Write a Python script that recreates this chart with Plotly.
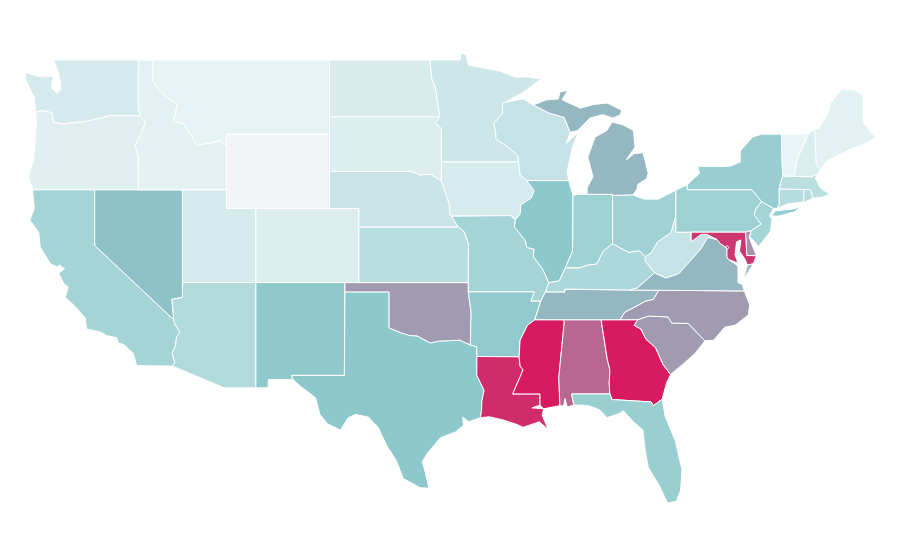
import plotly.graph_objects as go
from plotly.colors import sample_colorscale

WA = [[(-124.73,48.33),(-123.9,48.12),(-123.2,48.12),(-122.8,48.12),(-122.95,47.5),(-122.55,47.2),(-122.3,47.4),(-122.35,47.9),(-122.5,48.4),(-122.8,49),(-117.03,49),(-117.04,46.42),(-116.92,46),(-118.98,46),(-119.3,45.93),(-120.5,45.7),(-121.2,45.65),(-122.15,45.55),(-122.8,45.65),(-122.9,46.15),(-123.5,46.27),(-124,46.2),(-124.07,46.7),(-124.1,47),(-124.35,47.35),(-124.65,47.9)]]
OR = [[(-124,46.2),(-123.5,46.27),(-122.9,46.15),(-122.8,45.65),(-122.15,45.55),(-121.2,45.65),(-120.5,45.7),(-119.3,45.93),(-118.98,46),(-116.92,46),(-116.57,45.65),(-116.85,45),(-117.25,44.4),(-117.05,43.8),(-117.03,42),(-124.21,42),(-124.5,42.75),(-124.15,43.6),(-124.07,44.6),(-123.97,45.5)]]
CA = [[(-124.21,42),(-120,42),(-120,39),(-114.63,35),(-114.57,34.8),(-114.2,34.3),(-114.43,34.1),(-114.53,33.55),(-114.75,33.2),(-114.55,32.7),(-114.72,32.5),(-117.15,32.53),(-117.25,32.85),(-117.4,33.2),(-118,33.65),(-118.4,33.75),(-118.5,34.03),(-119.2,34.15),(-119.65,34.35),(-120.55,34.5),(-120.65,35.1),(-121.3,35.7),(-122,36.2),(-121.8,36.75),(-122.1,36.95),(-122.45,37.5),(-122.05,37.75),(-122.4,37.95),(-122.55,37.85),(-123,38),(-123.7,38.9),(-123.8,39.7),(-124.4,40.37),(-124.1,41),(-124.2,41.75)]]
NV = [[(-120,42),(-114.04,42),(-114.04,36.2),(-114.75,36.1),(-114.63,35),(-120,39)]]
ID = [[(-117.03,49),(-116.05,49),(-116.05,47.9),(-115.7,47.45),(-115.1,47),(-114.4,46.6),(-114.65,45.65),(-114,45.6),(-113.45,44.95),(-113.05,44.4),(-112,44.55),(-111.5,44.65),(-111.05,44.4),(-111.05,42),(-117.03,42),(-117.05,43.8),(-117.25,44.4),(-116.85,45),(-116.57,45.65),(-116.92,46),(-117.04,46.42)]]
MT = [[(-116.05,49),(-104.05,49),(-104.05,45),(-111.05,45),(-111.05,44.4),(-111.5,44.65),(-112,44.55),(-113.05,44.4),(-113.45,44.95),(-114,45.6),(-114.65,45.65),(-114.4,46.6),(-115.1,47),(-115.7,47.45),(-116.05,47.9)]]
WY = [[(-111.05,45),(-104.05,45),(-104.05,41),(-111.05,41)]]
UT = [[(-114.04,42),(-111.05,42),(-111.05,41),(-109.05,41),(-109.05,37),(-114.04,37)]]
CO = [[(-109.05,41),(-102.05,41),(-102.05,37),(-109.05,37)]]
AZ = [[(-114.04,37),(-109.05,37),(-109.05,31.33),(-111.2,31.33),(-114.72,32.5),(-114.55,32.7),(-114.75,33.2),(-114.53,33.55),(-114.43,34.1),(-114.2,34.3),(-114.57,34.8),(-114.63,35),(-114.75,36.1),(-114.04,36.2)]]
NM = [[(-109.05,37),(-103,37),(-103.04,32),(-106.62,32),(-106.53,31.78),(-108.21,31.78),(-108.21,31.33),(-109.05,31.33)]]
TX = [[(-106.62,32),(-103.04,32),(-103,36.5),(-100,36.5),(-100,34.56),(-99.2,34.3),(-98.6,34.15),(-98.1,34.13),(-97.6,33.9),(-97.2,33.75),(-96.6,33.85),(-95.9,33.87),(-95.2,33.9),(-94.48,33.64),(-94.04,33.55),(-94.04,32),(-93.55,31.2),(-93.7,30.6),(-93.72,30.1),(-93.8,29.72),(-94.6,29.5),(-95,29.75),(-94.95,29.3),(-95.5,28.95),(-96.5,28.65),(-97.4,27.8),(-97.75,27.35),(-97.55,26.8),(-97.3,25.92),(-97.9,25.95),(-99.05,26.45),(-99.5,27.4),(-100.15,28.2),(-100.75,29.2),(-101.4,29.75),(-102.3,29.9),(-102.8,29.7),(-103.3,29.05),(-104.2,29.4),(-104.7,29.9),(-105,30.8),(-106,31.4),(-106.53,31.78)]]
OK = [[(-103,37),(-94.62,37),(-94.62,36.5),(-94.43,35.4),(-94.48,33.64),(-95.2,33.9),(-95.9,33.87),(-96.6,33.85),(-97.2,33.75),(-97.6,33.9),(-98.1,34.13),(-98.6,34.15),(-99.2,34.3),(-100,34.56),(-100,36.5),(-103,36.5)]]
KS = [[(-102.05,40),(-95.31,40),(-94.9,39.75),(-94.61,39.11),(-94.62,37),(-102.05,37)]]
NE = [[(-104.05,43),(-98.5,43),(-97.9,42.8),(-97.2,42.85),(-96.45,42.49),(-96.1,41.7),(-95.9,41.2),(-95.86,40.7),(-95.31,40),(-102.05,40),(-102.05,41),(-104.05,41)]]
SD = [[(-104.05,45.94),(-96.56,45.94),(-96.85,45.6),(-96.45,45.3),(-96.45,42.49),(-97.2,42.85),(-97.9,42.8),(-98.5,43),(-104.05,43)]]
ND = [[(-104.05,49),(-97.23,49),(-97.1,48),(-96.85,47.5),(-96.56,45.94),(-104.05,45.94)]]
MN = [[(-97.23,49),(-95.15,49),(-95.15,49.38),(-94.8,49.3),(-94.6,48.72),(-93.5,48.55),(-92.5,48.4),(-91.4,48.07),(-90.75,48.1),(-89.68,47.98),(-90.8,47.3),(-92.1,46.72),(-92.29,46.66),(-92.29,46.1),(-92.87,45.6),(-92.75,45),(-92.75,44.75),(-91.9,44.3),(-91.25,43.85),(-91.22,43.5),(-96.45,43.5),(-96.45,45.3),(-96.85,45.6),(-96.56,45.94),(-96.85,47.5),(-97.1,48)]]
IA = [[(-96.45,43.5),(-91.22,43.5),(-91.1,42.8),(-90.65,42.5),(-90.15,41.95),(-90.35,41.55),(-91.05,41.2),(-91.1,40.7),(-91.42,40.38),(-91.73,40.61),(-95.77,40.58),(-95.86,40.7),(-95.9,41.2),(-96.1,41.7),(-96.45,42.49)]]
MO = [[(-95.77,40.58),(-91.73,40.61),(-91.42,40.38),(-91.5,40),(-90.73,39.25),(-90.65,38.9),(-90.15,38.8),(-90.2,38.4),(-89.55,37.7),(-89.15,37),(-89.38,36.5),(-89.7,36),(-90.37,36),(-90.15,36.5),(-94.62,36.5),(-94.62,37),(-94.61,39.11),(-94.9,39.75),(-95.31,40)]]
AR = [[(-94.62,36.5),(-90.15,36.5),(-90.37,36),(-89.7,36),(-90.1,35),(-90.6,34.7),(-91.1,33.9),(-91.17,33),(-94.04,33.02),(-94.04,33.55),(-94.48,33.64),(-94.43,35.4)]]
LA = [[(-94.04,33.02),(-91.17,33),(-91.1,32.5),(-90.9,32.3),(-91.6,31),(-89.75,31),(-89.75,30.4),(-90.3,30.25),(-89.5,30.2),(-89.6,29.85),(-89.2,29.1),(-89.8,29.5),(-90.9,29.2),(-91.3,29.35),(-92.25,29.6),(-93.2,29.77),(-93.8,29.72),(-93.72,30.1),(-93.7,30.6),(-93.55,31.2),(-94.04,32)]]
MS = [[(-90.1,35),(-88.2,35),(-88.1,34.9),(-88.47,31.9),(-88.4,30.37),(-89.5,30.2),(-89.75,30.4),(-89.75,31),(-91.6,31),(-90.9,32.3),(-91.1,32.5),(-91.17,33),(-91.1,33.9),(-90.6,34.7)]]
AL = [[(-88.2,35),(-85.6,35),(-85.18,32.87),(-85,32.3),(-85.05,31.55),(-85,31),(-87.6,31),(-87.45,30.4),(-87.9,30.3),(-88.05,30.75),(-88.15,30.35),(-88.4,30.37),(-88.47,31.9),(-88.1,34.9)]]
GA = [[(-85.6,35),(-83.1,35),(-83.35,34.7),(-82.9,34.5),(-82.55,33.95),(-81.9,33.5),(-81.4,32.6),(-80.88,32.05),(-81.15,31.6),(-81.45,30.72),(-82.05,30.36),(-82.2,30.57),(-84.86,30.7),(-85,31),(-85.05,31.55),(-85,32.3),(-85.18,32.87)]]
FL = [[(-87.6,31),(-85,31),(-84.86,30.7),(-82.2,30.57),(-82.05,30.36),(-81.45,30.72),(-81.25,29.8),(-80.55,28.45),(-80.1,26.9),(-80.2,25.8),(-80.5,25.2),(-81.1,25.13),(-81.6,26),(-82.4,27.05),(-82.6,27.95),(-82.75,29.05),(-83.4,29.5),(-84.1,30.1),(-84.35,29.95),(-85.2,29.72),(-85.7,30.15),(-86.5,30.38),(-87.45,30.4)]]
SC = [[(-83.35,34.7),(-83.1,35),(-82.4,35.2),(-81.05,35.15),(-80.8,34.82),(-79.67,34.8),(-78.55,33.86),(-79.2,33.2),(-79.9,32.7),(-80.88,32.05),(-81.4,32.6),(-81.9,33.5),(-82.55,33.95),(-82.9,34.5)]]
NC = [[(-84.32,35),(-83.1,35),(-82.4,35.2),(-81.05,35.15),(-80.8,34.82),(-79.67,34.8),(-78.55,33.86),(-77.95,33.9),(-77.2,34.6),(-76.5,34.7),(-75.6,35.25),(-75.5,35.8),(-75.87,36.55),(-81.68,36.59),(-82.05,36.1),(-82.6,36),(-83.1,35.77),(-84,35.4)]]
TN = [[(-90.1,35),(-84.32,35),(-84,35.4),(-83.1,35.77),(-82.6,36),(-82.05,36.1),(-81.68,36.59),(-83.68,36.6),(-88.07,36.65),(-88.07,36.5),(-89.38,36.5),(-89.7,36)]]
KY = [[(-89.38,36.5),(-88.07,36.5),(-88.07,36.65),(-83.68,36.6),(-83.15,36.7),(-81.97,37.53),(-82.6,38.17),(-82.6,38.4),(-83,38.72),(-83.7,38.63),(-84.25,38.85),(-84.82,39.1),(-85.45,38.7),(-85.9,38),(-86.5,37.95),(-87.1,37.8),(-88.03,37.8),(-88.45,37.1),(-89.15,37)]]
VA = [[(-83.68,36.6),(-81.68,36.59),(-75.87,36.55),(-76,36.9),(-76.3,37),(-76.3,37.6),(-76.3,37.9),(-76.95,38.25),(-77.05,38.4),(-77.05,38.85),(-77.5,39.1),(-77.72,39.32),(-78.35,39.45),(-78.87,38.77),(-79.3,38.42),(-80.3,37.5),(-81.2,37.25),(-81.97,37.53),(-83.15,36.7)],
      [(-75.95,37.15),(-75.65,37.95),(-75.25,38.03),(-75.6,37.55)]]
WV = [[(-81.97,37.53),(-81.2,37.25),(-80.3,37.5),(-79.3,38.42),(-78.87,38.77),(-78.35,39.45),(-77.72,39.32),(-78.4,39.6),(-78.8,39.6),(-79.48,39.2),(-79.48,39.72),(-80.52,39.72),(-80.52,40.64),(-80.85,39.7),(-81.75,39.2),(-82.2,38.6),(-82.6,38.4),(-82.6,38.17)]]
OH = [[(-84.82,41.7),(-83.45,41.73),(-82.7,41.5),(-81.7,41.5),(-80.52,41.98),(-80.52,40.64),(-80.85,39.7),(-81.75,39.2),(-82.2,38.6),(-82.6,38.4),(-83,38.72),(-83.7,38.63),(-84.25,38.85),(-84.82,39.1)]]
IN = [[(-87.52,41.7),(-87.2,41.75),(-86.55,41.76),(-84.82,41.76),(-84.82,39.1),(-85.45,38.7),(-85.9,38),(-86.5,37.95),(-87.1,37.8),(-88.03,37.8),(-87.55,38.7),(-87.52,39.35)]]
IL = [[(-90.65,42.5),(-87.8,42.5),(-87.52,41.7),(-87.52,39.35),(-87.55,38.7),(-88.03,37.8),(-88.45,37.1),(-89.15,37),(-89.55,37.7),(-90.2,38.4),(-90.15,38.8),(-90.65,38.9),(-90.73,39.25),(-91.5,40),(-91.42,40.38),(-91.1,40.7),(-91.05,41.2),(-90.35,41.55),(-90.15,41.95)]]
WI = [[(-92.29,46.66),(-92.1,46.72),(-90.9,46.9),(-90.2,46.57),(-89.1,46.13),(-88.1,45.9),(-87.85,45.4),(-87.7,45.1),(-87.95,44.5),(-87.15,45.1),(-87.55,44.3),(-87.9,43),(-87.8,42.5),(-90.65,42.5),(-91.1,42.8),(-91.22,43.5),(-91.25,43.85),(-91.9,44.3),(-92.75,44.75),(-92.75,45),(-92.87,45.6),(-92.29,46.1)]]
MI = [[(-86.55,41.76),(-84.82,41.76),(-84.82,41.7),(-83.45,41.73),(-83.15,42.05),(-83.1,42.3),(-82.5,42.6),(-82.4,42.9),(-82.75,44),(-83.35,43.95),(-83.9,43.6),(-83.3,44.3),(-83.4,45.2),(-84.1,45.5),(-84.85,45.66),(-85.2,45.2),(-86,44.85),(-86.5,43.77),(-86.15,42.7),(-86.55,42.1)],
      [(-90.2,46.57),(-89.1,46.13),(-88.1,45.9),(-87.85,45.4),(-87.7,45.1),(-87.2,45.2),(-86.35,45.87),(-85.5,46.05),(-84.8,45.87),(-84.3,46.03),(-84.2,46.3),(-85.2,46.68),(-86.1,46.6),(-87,46.4),(-88.25,46.85),(-87.86,47.37),(-88.4,47.27),(-88.5,46.9),(-89.3,46.85)]]
NY = [[(-79.76,42.27),(-79.76,42),(-75.35,42),(-74.7,41.36),(-73.9,41),(-73.65,41),(-73.49,41.2),(-73.5,42.05),(-73.27,42.75),(-73.35,45),(-74.7,45),(-75.3,44.85),(-76.15,44.1),(-76.15,43.5),(-76.8,43.28),(-77.6,43.25),(-79.05,43.27),(-78.9,42.9)],
      [(-74.03,40.6),(-73.75,40.87),(-72.6,40.97),(-72,41.08),(-72.5,40.8),(-73.6,40.58)]]
PA = [[(-80.52,41.98),(-79.76,42.27),(-79.76,42),(-75.35,42),(-74.7,41.36),(-75.1,40.95),(-75.2,40.65),(-74.72,40.15),(-75.4,39.8),(-75.79,39.72),(-80.52,39.72)]]
NJ = [[(-74.7,41.36),(-73.9,41),(-74.15,40.6),(-73.98,40.4),(-74.1,39.75),(-74.9,38.95),(-75.5,39.5),(-75.4,39.8),(-74.72,40.15),(-75.2,40.65),(-75.1,40.95)]]
DE = [[(-75.79,39.72),(-75.4,39.8),(-75.55,39.45),(-75.05,38.45),(-75.7,38.46)]]
MD = [[(-79.48,39.72),(-75.79,39.72),(-75.7,38.46),(-75.05,38.45),(-75.25,38.03),(-75.65,37.95),(-75.85,38.3),(-76.2,38.7),(-76.1,39.3),(-76.4,39.2),(-76.5,38.5),(-76.3,38.05),(-76.95,38.25),(-77.05,38.4),(-77.05,38.85),(-77.5,39.1),(-77.72,39.32),(-78.4,39.6),(-78.8,39.6),(-79.48,39.2)]]
DC = [[(-77.12,38.93),(-77.04,39),(-76.91,38.89),(-77.04,38.79)]]
CT = [[(-73.5,42.05),(-71.8,42.02),(-71.8,41.35),(-72.9,41.25),(-73.65,41),(-73.49,41.2)]]
RI = [[(-71.8,42.02),(-71.38,42.02),(-71.2,41.55),(-71.85,41.32)]]
MA = [[(-73.5,42.05),(-73.27,42.75),(-71.3,42.7),(-70.85,42.87),(-71.05,42.65),(-70.7,42.1),(-70.05,41.75),(-70.6,41.6),(-71.2,41.55),(-71.38,42.02),(-71.8,42.02)]]
VT = [[(-73.27,42.75),(-72.46,42.73),(-72.3,43.6),(-72.05,44.1),(-71.5,45.01),(-73.35,45)]]
NH = [[(-72.46,42.73),(-71.3,42.7),(-70.85,42.87),(-70.7,43.1),(-70.98,43.4),(-71.08,45.3),(-71.5,45.01),(-72.05,44.1),(-72.3,43.6)]]
ME = [[(-70.7,43.1),(-70.2,43.6),(-69.3,43.95),(-68.5,44.25),(-67.6,44.5),(-66.97,44.82),(-67.45,45.3),(-67.8,45.65),(-67.8,47.07),(-68.3,47.36),(-69.05,47.43),(-69.23,47.46),(-70,46.7),(-70.2,46.1),(-70.85,45.25),(-71.08,45.3),(-70.98,43.4)]]

state_names = ["WA","OR","CA","NV","ID","MT","WY","UT","CO","AZ","NM","TX","OK","KS","NE","SD","ND","MN","IA","MO","AR","LA","MS","AL","GA","FL","SC","NC","TN","KY","VA","WV","OH","IN","IL","WI","MI","NY","PA","NJ","DE","MD","DC","CT","RI","MA","VT","NH","ME"]
state_shapes = [WA,OR,CA,NV,ID,MT,WY,UT,CO,AZ,NM,TX,OK,KS,NE,SD,ND,MN,IA,MO,AR,LA,MS,AL,GA,FL,SC,NC,TN,KY,VA,WV,OH,IN,IL,WI,MI,NY,PA,NJ,DE,MD,DC,CT,RI,MA,VT,NH,ME]
state_values = [15,9,38,52,8,6,0,15,11,32,48.5,50,63,28,20,11,13,18,14,38,48,95,100,78,100,43,63,63,55,34,55,22,40,41,50,22,55,44,41,38,65,92,100,30,30,27,5,12,8]

colorscale = [[0, "#f2f4f5"], [0.05, "#e8f4f5"], [0.5, "#8cc8cc"], [1, "#d81b60"]]

fig = go.Figure()
for name, shape, value in zip(state_names, state_shapes, state_values):
    lons, lats = [], []
    for ring in shape:
        lons += [p[0] for p in ring] + [ring[0][0], None]
        lats += [p[1] for p in ring] + [ring[0][1], None]
    fig.add_trace(go.Scatter(x=lons, y=lats, name=name, mode="lines", fill="toself",
                             fillcolor=sample_colorscale(colorscale, value / 100)[0],
                             line=dict(color="white", width=1), showlegend=False))

# ranges are shifted a little because the page body has an 8px margin
fig.update_xaxes(range=[-125.89, -64.75], visible=False)
fig.update_yaxes(range=[21.62, 51.80], visible=False)
fig.update_layout(width=900, height=560, margin=dict(l=0, r=0, t=0, b=0),
                  paper_bgcolor="white", plot_bgcolor="white", showlegend=False)
fig.write_html("out.html")
